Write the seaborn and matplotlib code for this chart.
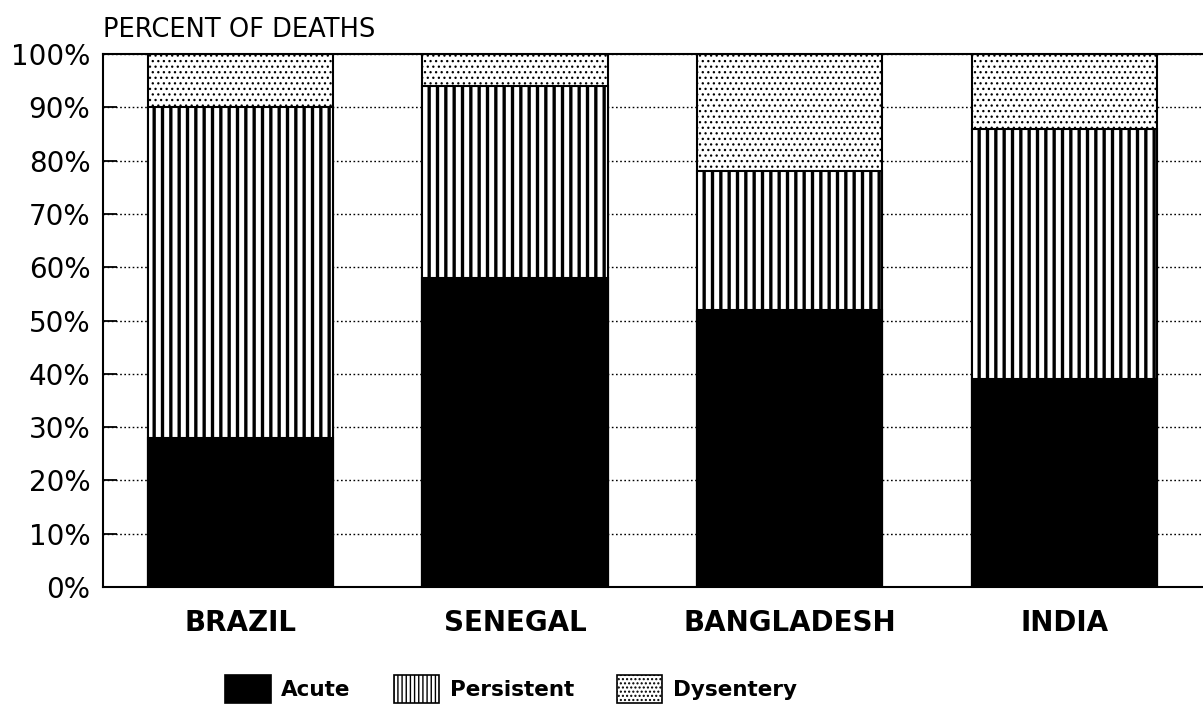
import matplotlib
matplotlib.use("Agg")
import matplotlib.pyplot as plt
import matplotlib as mpl
from matplotlib.patches import Patch
import seaborn as sns
import pandas as pd
import numpy as np

countries = ["BRAZIL", "SENEGAL", "BANGLADESH", "INDIA"]
acute = [28, 58, 52, 39]
persistent = [62, 36, 26, 47]
dysentery = [10, 6, 22, 14]
yticks = [0, 10, 20, 30, 40, 50, 60, 70, 80, 90, 100]

sns.set_theme(style="white")
plt.rcParams["font.family"] = ["DejaVu Sans"]
plt.rcParams["text.color"] = "black"
plt.rcParams["axes.labelcolor"] = "black"
plt.rcParams["xtick.color"] = "black"
plt.rcParams["ytick.color"] = "black"

df = pd.DataFrame({
    "country": countries,
    "Acute": acute,
    "Persistent": persistent,
    "Dysentery": dysentery,
})
df["top_acute"] = df["Acute"]
df["top_persistent"] = df["Acute"] + df["Persistent"]
df["top_dysentery"] = df["top_persistent"] + df["Dysentery"]

fig = plt.figure(figsize=(12.03, 7.12), dpi=100)
ax = fig.add_axes([103 / 1203, 125 / 712, 1 - 103 / 1203 - 0.001, (587 - 54) / 712])

layers = [
    ("top_dysentery", "white", "...", 0.9),
    ("top_persistent", "white", "||", 2.4),
    ("top_acute", "black", None, 1.0),
]
for col, fc, hatch, hlw in layers:
    with mpl.rc_context({"hatch.linewidth": hlw, "hatch.color": "black"}):
        before = len(ax.patches)
        sns.barplot(data=df, x="country", y=col, order=countries, color=fc,
                    saturation=1, width=0.674, errorbar=None, ax=ax,
                    hatch=hatch, edgecolor="black", linewidth=1.5)
        for p in ax.patches[before:]:
            if hasattr(p, "set_hatch_linewidth"):
                p.set_hatch_linewidth(hlw)

ax.set_xlim(-0.5, 3.5)
ax.set_ylim(0, 100)
ax.set_yticks(yticks)
ax.set_yticklabels([f"{v}%" for v in yticks], fontsize=20, color="black")
ax.set_xlabel("")
ax.set_ylabel("")
ax.tick_params(axis="y", direction="in", length=10, width=1.3, pad=9, left=True, colors="black")
ax.tick_params(axis="x", length=0, pad=16, colors="black")
for lab in ax.get_xticklabels():
    lab.set_fontsize(20)
    lab.set_fontweight("bold")
    lab.set_color("black")
ax.set_axisbelow(True)
ax.yaxis.grid(True, linestyle=(0, (1.2, 1.8)), color="black", linewidth=1.0)
ax.xaxis.grid(False)
for s in ["left", "bottom", "top"]:
    ax.spines[s].set_visible(True)
    ax.spines[s].set_color("black")
    ax.spines[s].set_linewidth(1.5)
ax.spines["right"].set_visible(False)

fig.text(103 / 1203, (712 - 37) / 712, "PERCENT OF DEATHS", fontsize=18.5,
         ha="left", va="baseline", color="black")

handles = []
for name, fc, hatch, hlw in [("Acute", "black", None, 1.0),
                             ("Persistent", "white", "||||", 1.6),
                             ("Dysentery", "white", "....", 0.8)]:
    with mpl.rc_context({"hatch.linewidth": hlw, "hatch.color": "black"}):
        p = Patch(facecolor=fc, edgecolor="black", hatch=hatch, linewidth=1.2, label=name)
        if hasattr(p, "set_hatch_linewidth"):
            p.set_hatch_linewidth(hlw)
        handles.append(p)

leg = fig.legend(handles=handles, loc="center", bbox_to_anchor=(0.425, 0.032), ncol=3,
                 frameon=False, handlelength=2.1, handleheight=1.6, handletextpad=0.5,
                 columnspacing=2.0, prop={"size": 15.5, "weight": "bold"})
for t in leg.get_texts():
    t.set_color("black")

fig.savefig("out.png", dpi=100)
